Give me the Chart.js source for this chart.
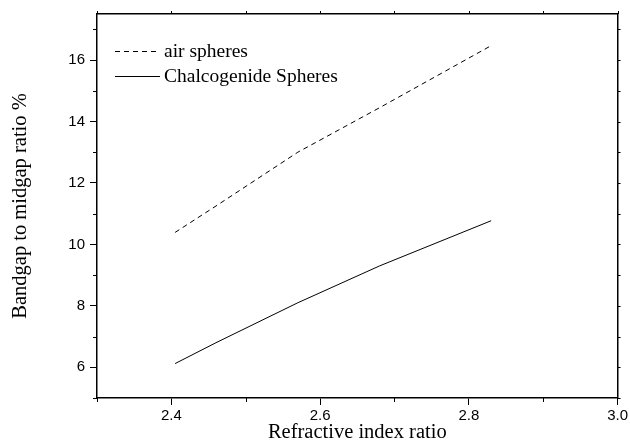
<!DOCTYPE html>
<html>
<head>
<meta charset="utf-8">
<script src="https://cdn.jsdelivr.net/npm/chart.js@4.4.0/dist/chart.umd.min.js"></script>
<style>
  html, body { margin: 0; padding: 0; background: #fff; }
  #wrap { width: 630px; height: 441px; position: relative; }
</style>
</head>
<body>
<div id="wrap"><canvas id="chart"></canvas></div>
<script>
// values
var ratioX = [2.405, 2.46, 2.57, 2.68, 2.83];
var airSpheres = [10.39, 11.25, 13.0, 14.45, 16.47];
var chalcogenideSpheres = [6.12, 6.8, 8.1, 9.3, 10.77];
var seriesNames = ["air spheres", "Chalcogenide Spheres"];
var xTicks = [2.4, 2.6, 2.8, 3.0];
var yTicks = [6, 8, 10, 12, 14, 16];

function toPoints(xs, ys) {
    var pts = [];
    for (var i = 0; i < xs.length; i++) {
        pts.push({x: xs[i], y: ys[i]});
    }
    return pts;
}

var serif = "'Liberation Serif', 'Times New Roman', serif";
var sans = "'Liberation Sans', Arial, sans-serif";

// minor ticks, ticks on top / right frame, and the legend inside the plot
var extras = {
    id: 'extras',
    afterDraw: function(chart) {
        var ctx = chart.ctx;
        var x = chart.scales.x, y = chart.scales.y;
        var a = chart.chartArea;
        ctx.save();
        ctx.strokeStyle = '#000';
        ctx.lineWidth = 1;
        ctx.beginPath();
        for (var v = 2.3; v <= 3.0001; v += 0.1) {
            var px = Math.round(x.getPixelForValue(v)) + 0.5;
            var major = xTicks.some(function(t){ return Math.abs(t - v) < 1e-6; });
            if (!major) {
                ctx.moveTo(px, a.bottom); ctx.lineTo(px, a.bottom + 4);
            }
            ctx.moveTo(px, a.top); ctx.lineTo(px, a.top - 3);
        }
        for (var w = 5; w <= 17; w += 1) {
            var py = Math.round(y.getPixelForValue(w)) + 0.5;
            if (yTicks.indexOf(w) < 0) {
                ctx.moveTo(a.left, py); ctx.lineTo(a.left - 4, py);
            }
            ctx.moveTo(a.right, py); ctx.lineTo(a.right + 3, py);
        }
        ctx.stroke();

        // legend
        var lx = a.left + 18, ly = a.top + 37;
        ctx.font = '19.5px ' + serif;
        ctx.fillStyle = '#000';
        ctx.textBaseline = 'middle';
        chart.data.datasets.forEach(function(ds, i) {
            var yy = ly + i * 25;
            ctx.beginPath();
            ctx.setLineDash(ds.borderDash || []);
            ctx.lineWidth = ds.borderWidth;
            ctx.moveTo(lx, yy + 0.5);
            ctx.lineTo(lx + 45, yy + 0.5);
            ctx.stroke();
            ctx.setLineDash([]);
            ctx.fillText(ds.label, lx + 49, yy + 1);
        });
        ctx.restore();
    }
};

new Chart(document.getElementById('chart'), {
    type: 'scatter',
    data: {
        datasets: [
            {
                label: seriesNames[0],
                data: toPoints(ratioX, airSpheres),
                showLine: true,
                borderColor: '#000',
                borderWidth: 1,
                borderDash: [5, 4],
                pointRadius: 0,
                tension: 0
            },
            {
                label: seriesNames[1],
                data: toPoints(ratioX, chalcogenideSpheres),
                showLine: true,
                borderColor: '#000',
                borderWidth: 1,
                pointRadius: 0,
                tension: 0
            }
        ]
    },
    options: {
        responsive: true,
        maintainAspectRatio: false,
        animation: false,
        layout: { padding: 0 },
        plugins: {
            legend: { display: false },
            tooltip: { enabled: false }
        },
        scales: {
            x: {
                type: 'linear',
                position: 'bottom',
                min: 2.3,
                max: 3.0,
                afterBuildTicks: function(s) {
                    s.ticks = xTicks.map(function(v){ return {value: v}; });
                },
                afterFit: function(s) { s.height = 43; },
                border: { color: '#000', width: 1.5 },
                grid: { drawOnChartArea: false, tickLength: 7, color: '#000' },
                ticks: {
                    color: '#000',
                    font: { family: sans, size: 15 },
                    padding: 2,
                    maxRotation: 0,
                    callback: function(v) { return v.toFixed(1); }
                },
                title: {
                    display: true,
                    text: 'Refractive index ratio',
                    color: '#000',
                    font: { family: serif, size: 20.5, lineHeight: 0.8 },
                    padding: { top: 0, bottom: 0 }
                }
            },
            xTop: {
                type: 'linear',
                position: 'top',
                min: 2.3,
                max: 3.0,
                afterFit: function(s) { s.height = 14; },
                border: { color: '#000', width: 1.5 },
                grid: { display: false },
                ticks: { display: false }
            },
            y: {
                type: 'linear',
                position: 'left',
                min: 5,
                max: 17.5,
                afterBuildTicks: function(s) {
                    s.ticks = yTicks.map(function(v){ return {value: v}; });
                },
                afterFit: function(s) { s.width = 97; },
                border: { color: '#000', width: 1.5 },
                grid: { drawOnChartArea: false, tickLength: 7, color: '#000' },
                ticks: {
                    color: '#000',
                    font: { family: sans, size: 15 },
                    padding: 5
                },
                title: {
                    display: true,
                    text: 'Bandgap to midgap ratio %',
                    color: '#000',
                    font: { family: serif, size: 20.5 },
                    padding: { top: 8, bottom: 0 }
                }
            },
            yRight: {
                type: 'linear',
                position: 'right',
                min: 5,
                max: 17.5,
                afterFit: function(s) { s.width = 10; },
                border: { color: '#000', width: 1.5 },
                grid: { display: false },
                ticks: { display: false }
            }
        }
    },
    plugins: [extras]
});
</script>
</body>
</html>
